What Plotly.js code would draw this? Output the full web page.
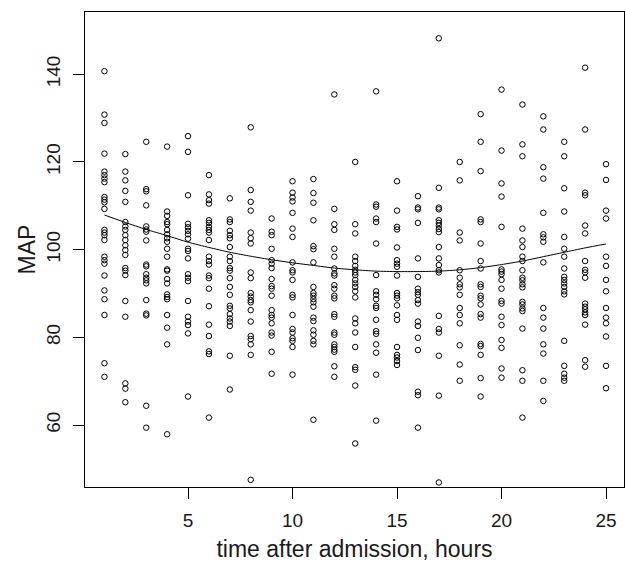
<!DOCTYPE html>
<html>
<head>
<meta charset="utf-8">
<script src="https://cdn.plot.ly/plotly-3.0.1.min.js"></script>
<style>
  html, body { margin: 0; padding: 0; background: #ffffff; }
  #chart { width: 625px; height: 562px; }
</style>
</head>
<body>
<div id="chart"></div>
<script>
// MAP readings by hour after admission
const h01 = [140.7, 130.8, 128.9, 121.9, 117.8, 117.0, 116.2, 115.4, 112.0, 111.4, 110.8, 109.3, 104.5, 103.9, 103.3, 102.2, 98.4, 97.6, 96.8, 94.1, 90.7, 88.7, 85.1, 74.1, 71.0];
const h02 = [121.8, 117.8, 115.8, 113.4, 110.9, 106.3, 105.3, 104.5, 103.3, 102.2, 101.0, 99.9, 98.8, 95.8, 95.2, 94.2, 88.3, 84.7, 69.5, 68.3, 65.2];
const h03 = [124.6, 113.8, 113.3, 110.1, 105.3, 104.6, 104.1, 102.1, 96.6, 96.2, 94.4, 93.6, 93.0, 92.3, 88.5, 85.4, 85.0, 64.4, 59.4];
const h04 = [123.5, 108.7, 107.7, 106.3, 105.8, 104.5, 103.5, 102.6, 101.8, 100.2, 98.4, 95.5, 95.2, 93.3, 92.3, 89.8, 89.2, 88.7, 85.1, 82.2, 78.4, 57.9];
const h05 = [125.9, 122.3, 112.4, 105.9, 105.1, 104.3, 103.5, 102.5, 100.2, 99.7, 98.0, 94.4, 93.6, 92.8, 88.3, 84.7, 83.6, 82.8, 80.9, 66.5];
const h06 = [117.0, 112.6, 111.3, 110.5, 106.7, 106.1, 105.2, 104.5, 103.9, 102.2, 98.4, 97.4, 96.6, 94.1, 93.5, 91.1, 87.1, 82.9, 80.3, 76.8, 76.2, 61.7];
const h07 = [111.7, 106.9, 106.3, 104.3, 103.3, 102.6, 100.6, 98.4, 97.4, 95.8, 95.2, 93.5, 91.5, 89.7, 87.2, 86.6, 85.3, 84.3, 83.6, 82.6, 75.8, 68.1];
const h08 = [127.9, 113.6, 110.9, 108.9, 103.9, 102.6, 101.4, 94.8, 93.5, 90.1, 89.3, 88.5, 88.0, 86.2, 83.6, 80.3, 79.6, 78.4, 76.0, 47.5];
const h09 = [107.1, 104.1, 103.3, 100.2, 97.6, 96.8, 95.8, 93.3, 91.7, 91.1, 89.5, 86.2, 85.1, 84.5, 83.2, 81.1, 80.4, 76.7, 71.7];
const h10 = [115.6, 113.0, 111.9, 111.0, 108.4, 104.8, 102.9, 97.1, 95.3, 94.8, 93.1, 89.7, 89.1, 85.1, 81.9, 81.1, 79.8, 79.2, 77.8, 71.5];
const h11 = [116.1, 112.9, 110.7, 106.7, 100.8, 100.1, 97.1, 91.5, 90.1, 89.5, 88.7, 88.0, 87.0, 84.5, 83.7, 81.6, 80.6, 79.2, 78.4, 61.2];
const h12 = [135.4, 109.3, 105.8, 104.5, 100.2, 98.4, 95.7, 94.6, 94.1, 91.9, 91.1, 89.5, 88.9, 85.3, 84.7, 81.1, 80.6, 78.4, 77.8, 77.2, 76.7, 73.4, 71.0];
const h13 = [120.0, 105.8, 103.7, 98.4, 97.4, 96.3, 95.4, 94.8, 94.2, 93.1, 92.3, 91.5, 90.5, 89.1, 84.3, 83.2, 81.1, 77.8, 73.2, 72.6, 69.0, 55.8];
const h14 = [136.1, 110.3, 109.8, 107.1, 106.3, 101.4, 94.2, 90.5, 89.7, 88.7, 87.2, 86.7, 84.0, 81.4, 80.8, 78.4, 76.5, 71.5, 61.0];
const h15 = [115.6, 108.9, 105.2, 104.6, 100.5, 97.6, 96.8, 96.1, 94.1, 90.1, 89.5, 88.9, 87.3, 85.1, 84.0, 77.8, 76.0, 75.4, 74.6, 73.7];
const h16 = [112.2, 109.6, 109.2, 106.1, 98.0, 93.8, 91.1, 90.3, 89.7, 88.5, 87.7, 83.6, 82.6, 79.9, 77.1, 67.6, 66.8, 59.4];
const h17 = [148.2, 114.1, 109.6, 109.2, 106.7, 106.1, 105.5, 104.7, 104.0, 100.6, 98.0, 96.5, 95.3, 94.8, 84.9, 81.9, 81.1, 75.8, 66.7, 46.9];
const h18 = [120.0, 115.8, 103.9, 102.1, 95.3, 93.6, 92.1, 91.4, 89.7, 86.7, 85.1, 83.2, 78.2, 73.8, 70.1];
const h19 = [130.9, 124.6, 117.9, 106.9, 106.3, 101.4, 97.4, 95.7, 92.1, 91.5, 89.5, 88.9, 87.5, 85.3, 84.5, 78.5, 78.0, 76.0, 70.7, 66.5];
const h20 = [136.5, 122.6, 115.1, 112.1, 105.2, 95.5, 95.0, 94.4, 93.1, 91.1, 88.3, 87.7, 84.7, 82.8, 79.4, 77.6, 72.9, 70.8];
const h21 = [133.1, 124.0, 121.3, 104.8, 102.1, 100.6, 98.4, 97.4, 95.3, 93.6, 93.0, 92.1, 91.4, 88.1, 87.5, 86.6, 86.0, 82.0, 72.5, 70.1, 61.7];
const h22 = [130.4, 127.4, 118.8, 116.2, 108.4, 103.5, 102.8, 101.8, 97.1, 86.7, 84.5, 82.0, 78.4, 76.3, 70.1, 65.5];
const h23 = [124.6, 121.3, 114.0, 108.7, 102.9, 100.2, 98.4, 95.7, 93.8, 93.1, 92.3, 91.5, 90.5, 89.8, 79.2, 73.5, 71.7, 70.8, 70.1];
const h24 = [141.5, 127.4, 113.0, 112.4, 105.5, 103.7, 97.4, 95.4, 94.8, 93.6, 87.7, 87.0, 86.4, 85.7, 85.1, 82.9, 74.8, 73.3];
const h25 = [119.5, 115.9, 108.9, 107.1, 98.4, 96.3, 93.1, 90.5, 86.7, 84.5, 83.2, 80.2, 73.5, 68.4];

// smooth (lowess-like) curve through the cloud, one value per hour
const smoothHours = [1,2,3,4,5,6,7,8,9,10,11,12,13,14,15,16,17,18,19,20,21,22,23,24,25];
const smoothMAP = [107.9, 106.2, 104.6, 103.2, 101.7, 100.5, 99.4, 98.5, 97.7, 97.0, 96.4, 95.8, 95.4, 95.1, 95.0, 95.0, 95.1, 95.4, 95.9, 96.6, 97.4, 98.4, 99.4, 100.4, 101.3];

const xTicks = [5, 10, 15, 20, 25];
const yTicks = [60, 80, 100, 120, 140];

const byHour = [h01,h02,h03,h04,h05,h06,h07,h08,h09,h10,h11,h12,h13,h14,h15,h16,h17,h18,h19,h20,h21,h22,h23,h24,h25];
const xs = [], ys = [];
byHour.forEach((arr, i) => { arr.forEach(v => { xs.push(smoothHours[i]); ys.push(v); }); });

const font = 'Liberation Sans, Arial, Helvetica, sans-serif';
const ink = '#1a1a1a';

const traces = [
  {
    x: xs, y: ys, type: 'scatter', mode: 'markers',
    marker: { symbol: 'circle-open', size: 5.5, color: '#000000', line: { width: 1, color: '#000000' } },
    showlegend: false
  },
  {
    x: smoothHours, y: smoothMAP, type: 'scatter', mode: 'lines',
    line: { color: '#000000', width: 1, shape: 'spline', smoothing: 0.6 },
    showlegend: false
  }
];

const layout = {
  width: 625, height: 562,
  margin: { l: 85, r: 1, t: 12, b: 75, pad: 0 },
  paper_bgcolor: '#ffffff', plot_bgcolor: '#ffffff',
  font: { family: font, color: ink },
  xaxis: {
    range: [0.07, 25.86],
    tickvals: xTicks, ticktext: xTicks.map(String),
    ticks: 'outside', ticklen: 11, tickwidth: 1, tickcolor: '#000',
    ticklabelstandoff: 5,
    showline: true, mirror: true, linecolor: '#000', linewidth: 1,
    showgrid: false, zeroline: false,
    tickfont: { size: 19, family: font, color: ink },
    title: { text: 'time after admission, hours', font: { size: 23, family: font, color: ink }, standoff: 12 }
  },
  yaxis: {
    range: [45.87, 154.2],
    tickvals: yTicks, ticktext: yTicks.map(String),
    tickangle: -90,
    ticks: 'outside', ticklen: 11, tickwidth: 1, tickcolor: '#000',
    ticklabelstandoff: 5,
    showline: true, mirror: true, linecolor: '#000', linewidth: 1,
    showgrid: false, zeroline: false,
    tickfont: { size: 19, family: font, color: ink },
    title: { text: 'MAP', font: { size: 23, family: font, color: ink }, standoff: 1 }
  }
};

Plotly.newPlot('chart', traces, layout, { displayModeBar: false, staticPlot: true });
</script>
</body>
</html>
